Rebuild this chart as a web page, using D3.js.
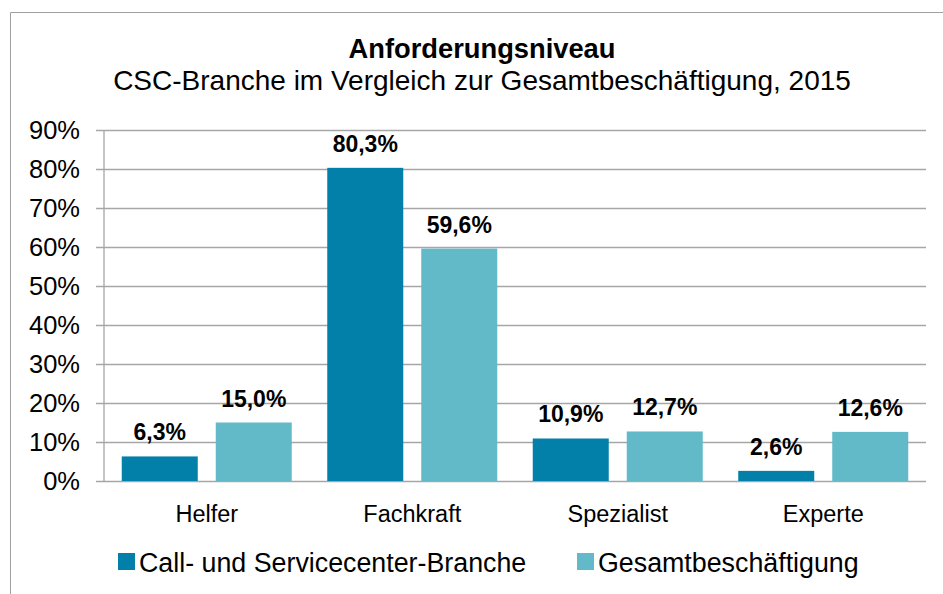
<!DOCTYPE html>
<html>
<head>
<meta charset="utf-8">
<script src="https://cdn.jsdelivr.net/npm/d3@7"></script>
<style>
  html, body { margin: 0; padding: 0; background: #fff; }
  svg { display: block; font-family: "Liberation Sans", Arial, sans-serif; }
</style>
</head>
<body>
<svg id="chart" width="943" height="594"></svg>
<script>
const categories = ["Helfer", "Fachkraft", "Spezialist", "Experte"];
const seriesNames = ["Call- und Servicecenter-Branche", "Gesamtbeschäftigung"];
const cscValues = [6.3, 80.3, 10.9, 2.6];
const gesamtValues = [15.0, 59.6, 12.7, 12.6];
const yTicks = [0, 10, 20, 30, 40, 50, 60, 70, 80, 90];
const titleText = "Anforderungsniveau";
const subtitleText = "CSC-Branche im Vergleich zur Gesamtbeschäftigung, 2015";
const colors = ["#0280A9", "#62BAC9"];

const svg = d3.select("#chart");
const fmt = v => v.toFixed(1).replace(".", ",") + "%";

// outer frame (open at right/bottom as in the crop)
svg.append("line").attr("x1", 10.5).attr("x2", 10.5).attr("y1", 12.5).attr("y2", 594)
  .attr("stroke", "#a0a0a0").attr("stroke-width", 1);
svg.append("line").attr("x1", 10.5).attr("x2", 943).attr("y1", 12.5).attr("y2", 12.5)
  .attr("stroke", "#a0a0a0").attr("stroke-width", 1);

// titles
svg.append("text").attr("x", 482).attr("y", 58).attr("text-anchor", "middle")
  .attr("font-size", 27.3).attr("font-weight", "bold").attr("fill", "#000").text(titleText);
svg.append("text").attr("x", 482).attr("y", 90).attr("text-anchor", "middle")
  .attr("font-size", 28).attr("fill", "#000").text(subtitleText);

const y = d3.scaleLinear().domain([0, 90]).range([481, 130]);
const x0 = d3.scaleBand().domain(categories).range([104, 926]).paddingInner(0.1727).paddingOuter(0.1727 / 2);
const x1 = d3.scaleBand().domain(seriesNames).range([0, x0.bandwidth()]).paddingInner(18 / 94);

// gridlines + y axis with left ticks
const yAxis = d3.axisLeft(y).tickValues(yTicks).tickFormat(d => d + "%")
  .tickSize(-(926 - 96)).tickPadding(16);
const gy = svg.append("g").attr("transform", "translate(96,0)").call(yAxis);
gy.select(".domain").remove();
gy.selectAll(".tick line").attr("stroke", "#a6a6a6").attr("stroke-width", 1.3);
gy.selectAll(".tick text").attr("font-size", 25.5).attr("fill", "#000")
  .attr("font-family", "Liberation Sans, Arial, sans-serif");
// vertical axis line
svg.append("line").attr("x1", 104).attr("x2", 104).attr("y1", y(90)).attr("y2", y(0))
  .attr("stroke", "#a6a6a6").attr("stroke-width", 1.3);

// category axis labels
const xAxis = d3.axisBottom(x0.copy().paddingInner(0).paddingOuter(0)).tickSize(0).tickPadding(24);
const gx = svg.append("g").attr("transform", `translate(0,${y(0)})`).call(xAxis);
gx.select(".domain").remove();
gx.selectAll(".tick text").attr("font-size", 23.5).attr("fill", "#000")
  .attr("font-family", "Liberation Sans, Arial, sans-serif");

// bars
const data = categories.map((c, i) => ({ cat: c, vals: [cscValues[i], gesamtValues[i]] }));
const groups = svg.append("g").selectAll("g").data(data).join("g")
  .attr("transform", d => `translate(${x0(d.cat)},0)`);
groups.selectAll("rect").data(d => d.vals.map((v, j) => ({ s: seriesNames[j], v, j })))
  .join("rect")
  .attr("x", d => x1(d.s)).attr("width", x1.bandwidth())
  .attr("y", d => y(d.v)).attr("height", d => y(0) - y(d.v))
  .attr("fill", d => colors[d.j]);
groups.selectAll("text").data(d => d.vals.map((v, j) => ({ s: seriesNames[j], v, j })))
  .join("text")
  .attr("x", d => x1(d.s) + x1.bandwidth() / 2).attr("y", d => y(d.v) - 16)
  .attr("text-anchor", "middle").attr("font-size", 23).attr("font-weight", "bold")
  .attr("fill", "#000").text(d => fmt(d.v));

// legend
const legendX = [118, 577];
const lg = svg.append("g").selectAll("g").data(seriesNames).join("g")
  .attr("transform", (d, i) => `translate(${legendX[i]},553)`);
lg.append("rect").attr("width", 17).attr("height", 17).attr("fill", (d, i) => colors[i]);
lg.append("text").attr("x", 21).attr("y", 19).attr("font-size", 26.8).attr("fill", "#000").text(d => d);
</script>
</body>
</html>
